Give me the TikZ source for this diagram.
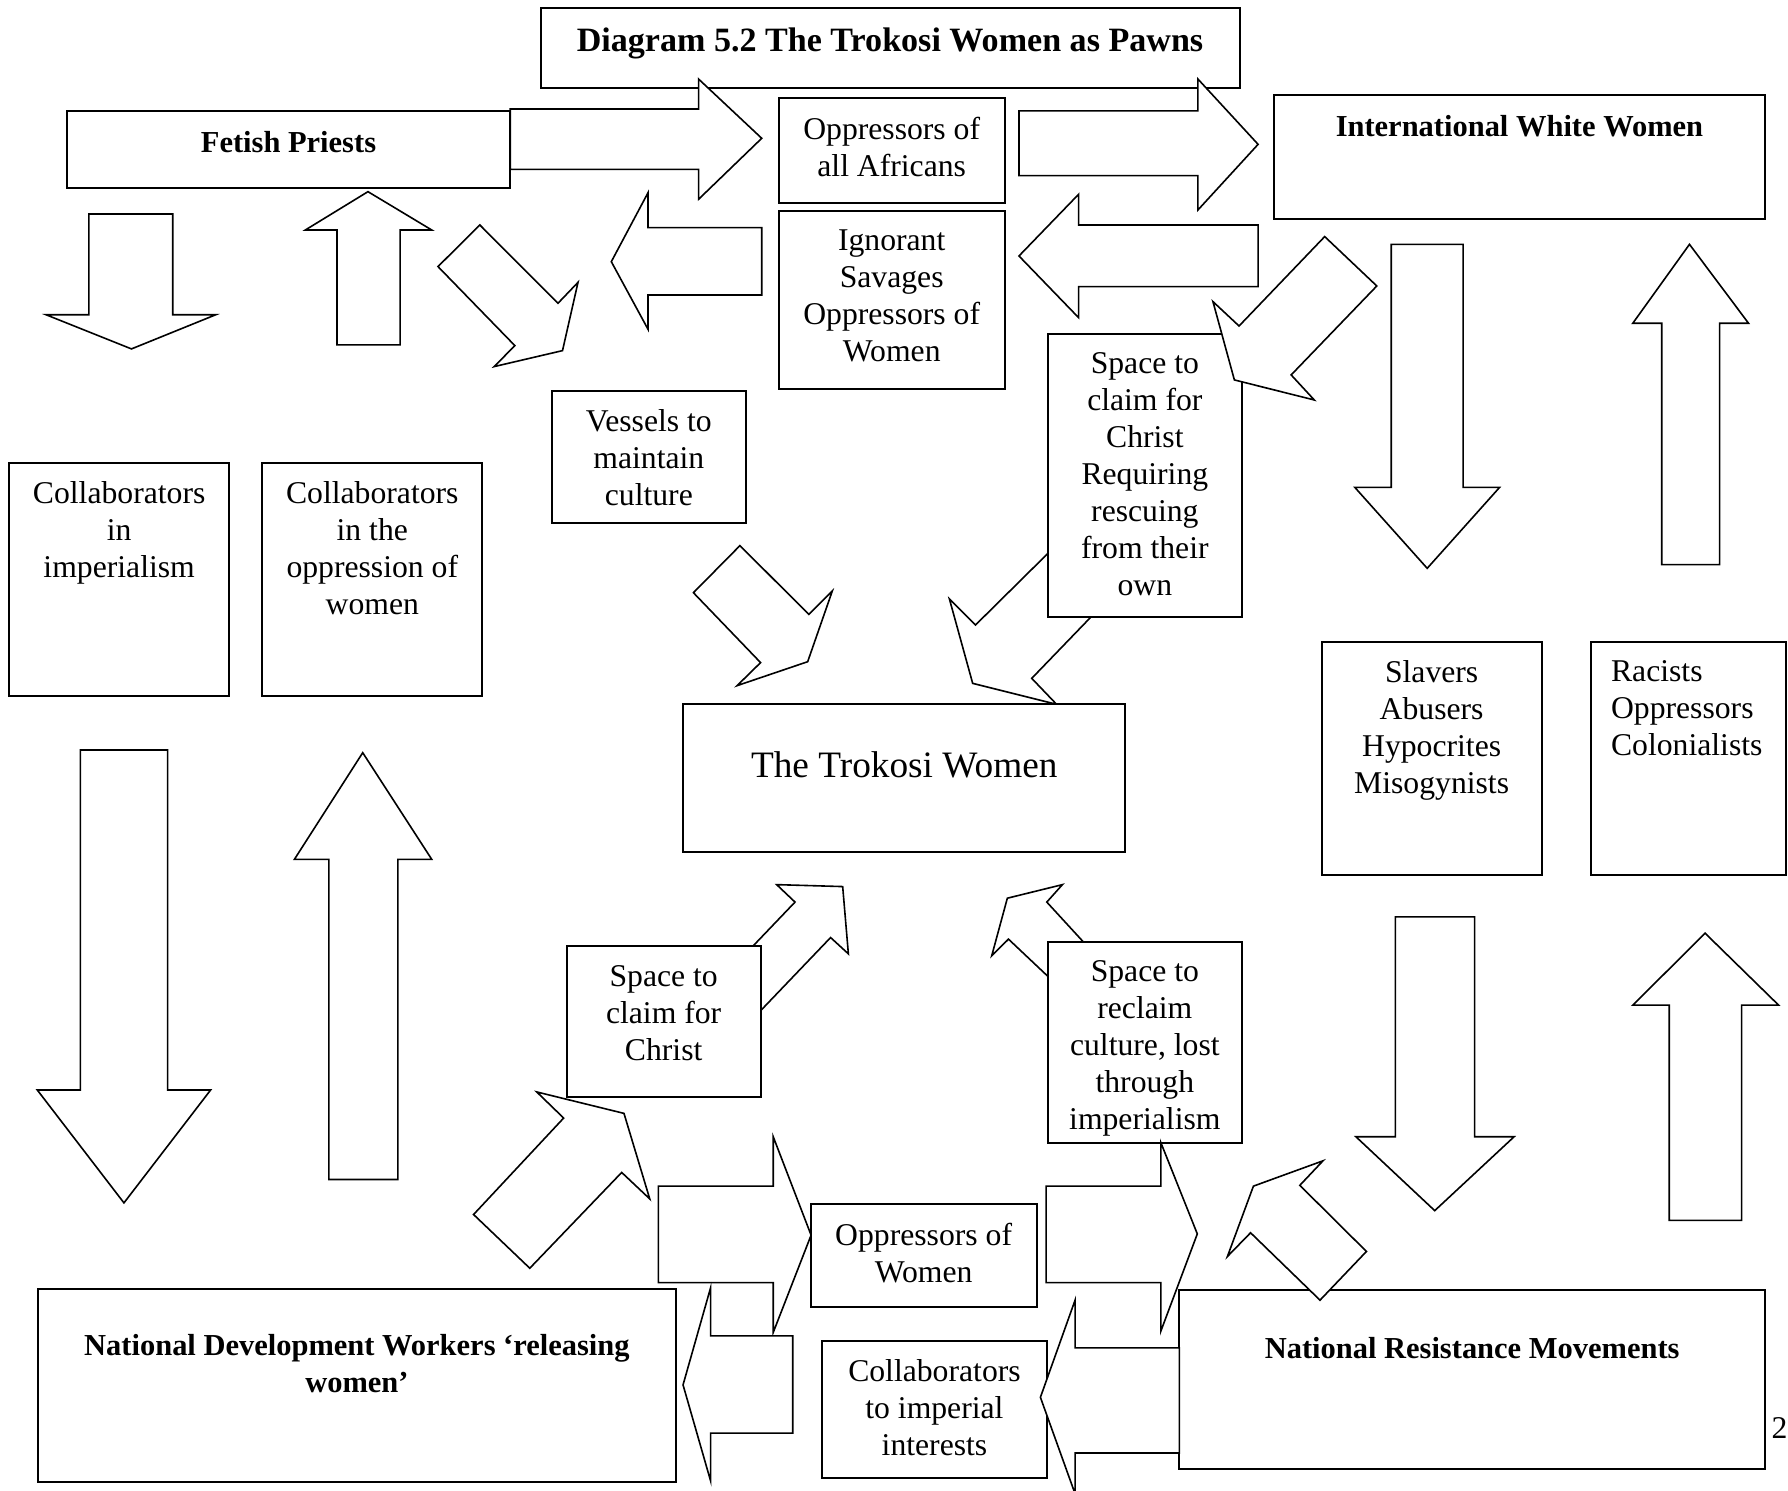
\documentclass[tikz,border=0pt]{standalone}
\usepackage{fontspec}
\setmainfont{Liberation Serif}
\usetikzlibrary{positioning}
\usetikzlibrary{fit}
\tikzset{
    box/.style = {draw=black, fill=white, line width=0.5pt, inner sep=0pt},
    txt/.style = {align=center, inner sep=0pt, font=\fontsize{7.9}{9.2}\selectfont},
    btxt/.style = {txt, font=\bfseries\fontsize{7.6}{9.2}\selectfont},
    ttxt/.style = {txt, font=\bfseries\fontsize{8.5}{10}\selectfont},
    bigtxt/.style = {txt, font=\fontsize{9.3}{11}\selectfont},
    blk/.style = {draw=black, fill=white, line width=0.4pt, line join=miter}
}
\begin{document}
\begin{tikzpicture}[x=0.01cm, y=-0.01cm]
    \useasboundingbox (0,0) rectangle (1568,1307);
    % arrows that run under the boxes
    \draw[blk] (950,454.6) -- (855.5,548.1) -- (832.6,525.3) -- (853,599.3) -- (926.6,617.7) -- (904.8,594.9) -- (1000,496.2) -- cycle;
    \draw[blk] (620,871.9) -- (697.2,791.1) -- (681.1,775.8) -- (739,777.5) -- (744,836.5) -- (728.4,822.2) -- (640,914.6) -- cycle;
    \draw[blk] (975,853.2) -- (918,791.1) -- (931.7,775.8) -- (883.4,787.7) -- (869.7,838.2) -- (884.4,823.6) -- (960,895) -- cycle;

    % boxes
    \node[box, fit={(474,7) (1087,77)}] (title) {};
    \node[box, fit={(59,97) (447,165)}] (fetish) {};
    \node[box, fit={(683,86) (881,178)}] (opp_afr) {};
    \node[box, fit={(683,185) (881,341)}] (ign_sav) {};
    \node[box, fit={(1117,83) (1548,192)}] (intl_ww) {};
    \node[box, fit={(484,343) (654,459)}] (vessels) {};
    \node[box, fit={(919,293) (1089,541)}] (claim_req) {};
    \node[box, fit={(8,406) (201,610)}] (collab_imp) {};
    \node[box, fit={(230,406) (423,610)}] (collab_opp) {};
    \node[box, fit={(599,617) (987,747)}] (trokosi) {};
    \node[box, fit={(1159,563) (1352,767)}] (slavers) {};
    \node[box, fit={(1395,563) (1566,767)}] (racists) {};
    \node[box, fit={(497,830) (667,962)}] (claim_low) {};
    \node[box, fit={(919,826) (1089,1002)}] (reclaim) {};
    \node[box, fit={(711,1056) (909,1146)}] (opp_wom) {};
    \node[box, fit={(721,1176) (918,1296)}] (collab_int) {};
    \node[box, fit={(33,1130) (593,1300)}] (ndw) {};
    \node[box, fit={(1034,1131) (1548,1288)}] (nrm) {};

    % texts
    \node[ttxt, below=0.175cm of title.north] (t_title) {Diagram 5.2 The Trokosi Women as Pawns};
    \node[btxt, below=0.187cm of fetish.north] (t_fetish) {Fetish Priests};
    \node[txt, below=0.167cm of opp_afr.north] (t_opp_afr) {Oppressors of\\all Africans};
    \node[txt, below=0.167cm of ign_sav.north] (t_ign_sav) {Ignorant\\Savages\\Oppressors of\\Women};
    \node[btxt, below=0.187cm of intl_ww.north] (t_intl_ww) {International White Women};
    \node[txt, below=0.167cm of vessels.north] (t_vessels) {Vessels to\\maintain\\culture};
    \node[txt, below=0.167cm of claim_req.north] (t_claim_req) {Space to\\claim for\\Christ\\Requiring\\rescuing\\from their\\own};
    \node[txt, below=0.167cm of collab_imp.north] (t_collab_imp) {Collaborators\\in\\imperialism};
    \node[txt, below=0.167cm of collab_opp.north] (t_collab_opp) {Collaborators\\in the\\oppression of\\women};
    \node[bigtxt, below=0.425cm of trokosi.north] (t_trokosi) {The Trokosi Women};
    \node[txt, below=0.167cm of slavers.north] (t_slavers) {Slavers\\Abusers\\Hypocrites\\Misogynists};
    \node[txt, align=left, below right=0.167cm and 0.18cm of racists.north west] (t_racists) {Racists\\Oppressors\\Colonialists};
    \node[txt, below=0.167cm of claim_low.north] (t_claim_low) {Space to\\claim for\\Christ};
    \node[txt, below=0.167cm of reclaim.north] (t_reclaim) {Space to\\reclaim\\culture, lost\\through\\imperialism};
    \node[txt, below=0.167cm of opp_wom.north] (t_opp_wom) {Oppressors of\\Women};
    \node[txt, below=0.167cm of collab_int.north] (t_collab_int) {Collaborators\\to imperial\\interests};
    \node[btxt, below=0.407cm of ndw.north] (t_ndw) {National Development Workers ‘releasing\\women’};
    \node[btxt, below=0.417cm of nrm.north] (t_nrm) {National Resistance Movements};
    \node[txt, anchor=west] (page_no) at (1553,1252) {20};

    % block arrows
    \draw[blk] (447.5,95.6) -- (612.6,95.6) -- (612.6,69.3) -- (668,121.3) -- (612.6,174.8) -- (612.6,148.5) -- (447.5,148.5) -- cycle;
    \draw[blk] (78,187.7) -- (151.5,187.7) -- (151.5,276) -- (189.3,276) -- (115.3,306) -- (40.3,276) -- (78,276) -- cycle;
    \draw[blk] (295.5,302.5) -- (350.9,302.5) -- (350.9,201.7) -- (378.6,201.7) -- (322.7,168.1) -- (267.8,201.7) -- (295.5,201.7) -- cycle;
    \draw[blk] (420.8,197.3) -- (489.3,266) -- (506.9,247.6) -- (493.3,307.5) -- (433.4,321.5) -- (451.5,303.1) -- (384.1,233.8) -- cycle;
    \draw[blk] (668,199.6) -- (668,258.7) -- (568.3,258.7) -- (568.3,288.8) -- (536.1,229.5) -- (568.3,169) -- (568.3,199.6) -- cycle;
    \draw[blk] (893.6,97.3) -- (1050.5,97.3) -- (1050.5,69.3) -- (1103.3,126.6) -- (1050.5,184.2) -- (1050.5,154) -- (893.6,154) -- cycle;
    \draw[blk] (1103.3,197.3) -- (1103.3,251.4) -- (945.9,251.4) -- (945.9,278.6) -- (893.6,224.5) -- (945.9,170.4) -- (945.9,197.3) -- cycle;
    \draw[blk] (1161.7,207.5) -- (1207.4,250.8) -- (1132.3,328.8) -- (1152.6,350.8) -- (1082.5,333.2) -- (1063.7,264.5) -- (1086.6,285.9) -- cycle;
    \draw[blk] (1220.1,214.3) -- (1283.1,214.3) -- (1283.1,427.4) -- (1315.1,427.4) -- (1251.6,498.4) -- (1188.1,427.4) -- (1220.1,427.4) -- cycle;
    \draw[blk] (1457.3,495.2) -- (1508,495.2) -- (1508,283.5) -- (1533.4,283.5) -- (1481.6,214.3) -- (1431.9,283.5) -- (1457.3,283.5) -- cycle;
    \draw[blk] (648.9,478.5) -- (709.3,538.8) -- (729.9,518.3) -- (708.3,580.3) -- (646.4,601.3) -- (667,581.1) -- (608.1,519.8) -- cycle;
    \draw[blk] (70.5,657.7) -- (147,657.7) -- (147,955.9) -- (184.7,955.9) -- (108.7,1054.9) -- (32.7,955.9) -- (70.5,955.9) -- cycle;
    \draw[blk] (288.4,1034.4) -- (348.9,1034.4) -- (348.9,753.6) -- (378.6,753.6) -- (318.1,660.1) -- (258.2,753.6) -- (288.4,753.6) -- cycle;
    \draw[blk] (464.6,1112.2) -- (415.3,1065.1) -- (494.3,980.5) -- (470.7,957.6) -- (547.2,976.4) -- (569.8,1051.4) -- (545.2,1028.2) -- cycle;
    \draw[blk] (577.4,1040.2) -- (678.1,1040.2) -- (678.1,996.9) -- (711.3,1083.2) -- (678.1,1168.5) -- (678.1,1124.8) -- (577.4,1124.8) -- cycle;
    \draw[blk] (695.2,1171.5) -- (695.2,1256.8) -- (623.2,1256.8) -- (623.2,1298.8) -- (599,1214.5) -- (623.2,1129.2) -- (623.2,1171.5) -- cycle;
    \draw[blk] (917.4,1040.2) -- (1018,1040.2) -- (1018,1002) -- (1050,1082.1) -- (1018,1167.4) -- (1018,1124.8) -- (917.4,1124.8) -- cycle;
    \draw[blk] (1034.2,1182.1) -- (1034.2,1274.2) -- (942.8,1274.2) -- (942.8,1310) -- (912.4,1225.4) -- (942.8,1140.2) -- (942.8,1182.1) -- cycle;
    \draw[blk] (1096.7,1081.1) -- (1157.6,1140.2) -- (1198.3,1097.5) -- (1139.9,1039.5) -- (1160.2,1018) -- (1099.2,1040.2) -- (1076.4,1101.9) -- cycle;
    \draw[blk] (1223.7,804.1) -- (1293.2,804.1) -- (1293.2,996.9) -- (1327.8,996.9) -- (1258.2,1061.7) -- (1189.1,996.9) -- (1223.7,996.9) -- cycle;
    \draw[blk] (1463.9,1070.2) -- (1527.3,1070.2) -- (1527.3,881.5) -- (1559.8,881.5) -- (1495.3,818.4) -- (1431.9,881.5) -- (1463.9,881.5) -- cycle;
\end{tikzpicture}
\end{document}
